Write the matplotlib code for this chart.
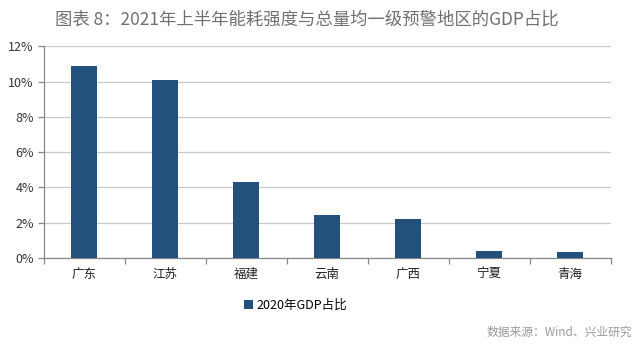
import matplotlib.pyplot as plt
import numpy as np

plt.rcParams['font.family'] = ['Noto Sans CJK SC', 'DejaVu Sans']

# GDP share of regions on first-level warning, 2020
regions = ['广东', '江苏', '福建', '云南', '广西', '宁夏', '青海']
gdp_share = [10.9, 10.1, 4.3, 2.44, 2.2, 0.41, 0.33]
yticks = [0, 2, 4, 6, 8, 10, 12]

bar_color = '#23507c'
grid_color = '#c8c8c8'

fig = plt.figure(figsize=(6.4, 3.48), dpi=100)
ax = fig.add_axes([0.068, 0.259, 0.886, 0.608])

x = np.arange(len(regions))
ax.bar(x, gdp_share, width=0.33, color=bar_color, zorder=3,
       label='2020年GDP占比')

ax.set_xlim(-0.5, len(regions) - 0.5)
ax.set_ylim(0, 12)
ax.set_yticks(yticks)
ax.set_yticklabels(['{}%'.format(v) for v in yticks], fontsize=9, color='#333333')
ax.yaxis.grid(True, color=grid_color, linewidth=0.9, zorder=0)

# category labels centred under bars, tick marks at the boundaries
ax.set_xticks(x)
ax.set_xticklabels(regions, fontsize=9, color='#222222')
ax.tick_params(axis='x', length=0, pad=7)
ax.set_xticks(np.arange(len(regions) + 1) - 0.5, minor=True)
ax.tick_params(axis='x', which='minor', length=4, color='#888888', width=0.9)
ax.tick_params(axis='y', length=4, color='#888888', width=0.9, pad=3)

for side in ['top', 'right']:
    ax.spines[side].set_visible(False)
for side in ['left', 'bottom']:
    ax.spines[side].set_color('#888888')
    ax.spines[side].set_linewidth(0.9)

ax.legend(loc='upper center', bbox_to_anchor=(0.445, -0.14), frameon=False,
          fontsize=9, handlelength=0.7, handleheight=0.7, handletextpad=0.3)

fig.text(0.086, 0.945, '图表 8：2021年上半年能耗强度与总量均一级预警地区的GDP占比',
         fontsize=12.5, color='#707070', va='center', ha='left')
fig.text(0.988, 0.045, '数据来源：Wind、兴业研究', fontsize=8.5,
         color='#9a9a9a', va='center', ha='right')

fig.savefig('out.png', dpi=100)
